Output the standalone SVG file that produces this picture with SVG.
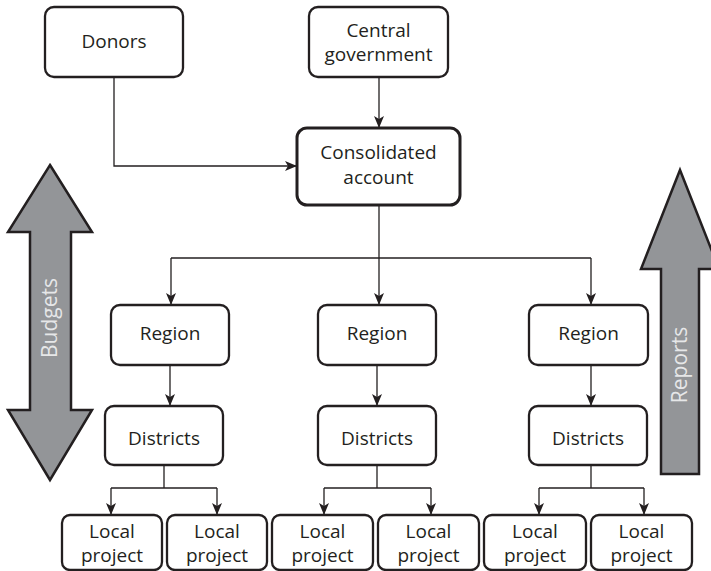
<svg xmlns="http://www.w3.org/2000/svg" width="711" height="571" viewBox="0 0 711 571">
  <defs>
    <style>
      .box { fill: #ffffff; stroke: #231f20; stroke-width: 2.3; }
      .box-strong { fill: #ffffff; stroke: #231f20; stroke-width: 3; }
      .label { font-family: "Open Sans", "Noto Sans", "Liberation Sans", sans-serif; font-size: 19px; fill: #231f20; text-anchor: middle; }
      .big-arrow { fill: #939598; stroke: #231f20; stroke-width: 2.5; stroke-linejoin: miter; }
      .arrow-label { font-family: "Open Sans", "Noto Sans", "Liberation Sans", sans-serif; font-size: 21px; fill: #e6e7e8; text-anchor: middle; }
      .link { fill: none; stroke: #231f20; stroke-width: 1.3; }
    </style>
    <marker id="head" viewBox="0 0 12 10" refX="12" refY="5" markerWidth="12" markerHeight="10" markerUnits="userSpaceOnUse" orient="auto">
      <path d="M0,0 L12,5 L0,10 L3,5 Z" fill="#231f20"/>
    </marker>
  </defs>

  <rect width="711" height="571" fill="#ffffff"/>

  <!-- side arrows -->
  <g id="budgets">
    <path class="big-arrow" d="M50,165 L92,232 L71,232 L71,410 L92,410 L50,480 L8,410 L30,410 L30,232 L8,232 Z"/>
    <text class="arrow-label" transform="translate(57,318) rotate(-90)">Budgets</text>
  </g>
  <g id="reports">
    <path class="big-arrow" d="M680,170 L719,269 L699,269 L699,474 L661,474 L661,269 L641,269 Z"/>
    <text class="arrow-label" transform="translate(687,365) rotate(-90)">Reports</text>
  </g>

  <!-- connectors -->
  <g id="connectors">
    <path class="link" d="M114,77 V166 H297" marker-end="url(#head)"/>
    <path class="link" d="M379,77 V128" marker-end="url(#head)"/>
    <path class="link" d="M379,205 V258"/>
    <path class="link" d="M171,258 H591"/>
    <path class="link" d="M171,258 V305" marker-end="url(#head)"/>
    <path class="link" d="M379,258 V305" marker-end="url(#head)"/>
    <path class="link" d="M591,258 V305" marker-end="url(#head)"/>
    <path class="link" d="M170,365 V406" marker-end="url(#head)"/>
    <path class="link" d="M377,365 V406" marker-end="url(#head)"/>
    <path class="link" d="M591,365 V406" marker-end="url(#head)"/>
    <path class="link" d="M164,465 V488"/>
    <path class="link" d="M111,488 H217"/>
    <path class="link" d="M111,488 V515" marker-end="url(#head)"/>
    <path class="link" d="M217,488 V515" marker-end="url(#head)"/>
    <path class="link" d="M377,465 V488"/>
    <path class="link" d="M324,488 H431"/>
    <path class="link" d="M324,488 V515" marker-end="url(#head)"/>
    <path class="link" d="M431,488 V515" marker-end="url(#head)"/>
    <path class="link" d="M591,465 V488"/>
    <path class="link" d="M539,488 H644"/>
    <path class="link" d="M539,488 V515" marker-end="url(#head)"/>
    <path class="link" d="M644,488 V515" marker-end="url(#head)"/>
  </g>

  <!-- top level -->
  <g id="donors">
    <rect class="box" x="45" y="7" width="138" height="70" rx="9"/>
    <text class="label" x="114" y="48">Donors</text>
  </g>
  <g id="central-government">
    <rect class="box" x="309" y="7" width="139" height="70" rx="9"/>
    <text class="label" x="378.5" y="37">Central</text>
    <text class="label" x="378.5" y="61">government</text>
  </g>
  <g id="consolidated-account">
    <rect class="box-strong" x="297" y="128" width="163" height="77" rx="10"/>
    <text class="label" x="378.5" y="159">Consolidated</text>
    <text class="label" x="378.5" y="184">account</text>
  </g>

  <!-- regions -->
  <g id="region-1">
    <rect class="box" x="111" y="305" width="118" height="60" rx="9"/>
    <text class="label" x="170" y="340">Region</text>
  </g>
  <g id="region-2">
    <rect class="box" x="318" y="305" width="118" height="60" rx="9"/>
    <text class="label" x="377" y="340">Region</text>
  </g>
  <g id="region-3">
    <rect class="box" x="529" y="305" width="119" height="60" rx="9"/>
    <text class="label" x="588.5" y="340">Region</text>
  </g>

  <!-- districts -->
  <g id="districts-1">
    <rect class="box" x="105" y="406" width="118" height="59" rx="9"/>
    <text class="label" x="164" y="445">Districts</text>
  </g>
  <g id="districts-2">
    <rect class="box" x="318" y="406" width="118" height="59" rx="9"/>
    <text class="label" x="377" y="445">Districts</text>
  </g>
  <g id="districts-3">
    <rect class="box" x="529" y="406" width="118" height="59" rx="9"/>
    <text class="label" x="588" y="445">Districts</text>
  </g>

  <!-- local projects -->
  <g id="project-1">
    <rect class="box" x="62" y="515" width="100" height="55" rx="8"/>
    <text class="label" x="112" y="538">Local</text>
    <text class="label" x="112" y="562">project</text>
  </g>
  <g id="project-2">
    <rect class="box" x="167" y="515" width="100" height="55" rx="8"/>
    <text class="label" x="217" y="538">Local</text>
    <text class="label" x="217" y="562">project</text>
  </g>
  <g id="project-3">
    <rect class="box" x="272" y="515" width="101" height="55" rx="8"/>
    <text class="label" x="322.5" y="538">Local</text>
    <text class="label" x="322.5" y="562">project</text>
  </g>
  <g id="project-4">
    <rect class="box" x="378" y="515" width="101" height="55" rx="8"/>
    <text class="label" x="428.5" y="538">Local</text>
    <text class="label" x="428.5" y="562">project</text>
  </g>
  <g id="project-5">
    <rect class="box" x="484" y="515" width="102" height="55" rx="8"/>
    <text class="label" x="535" y="538">Local</text>
    <text class="label" x="535" y="562">project</text>
  </g>
  <g id="project-6">
    <rect class="box" x="591" y="515" width="101" height="55" rx="8"/>
    <text class="label" x="641.5" y="538">Local</text>
    <text class="label" x="641.5" y="562">project</text>
  </g>
</svg>
